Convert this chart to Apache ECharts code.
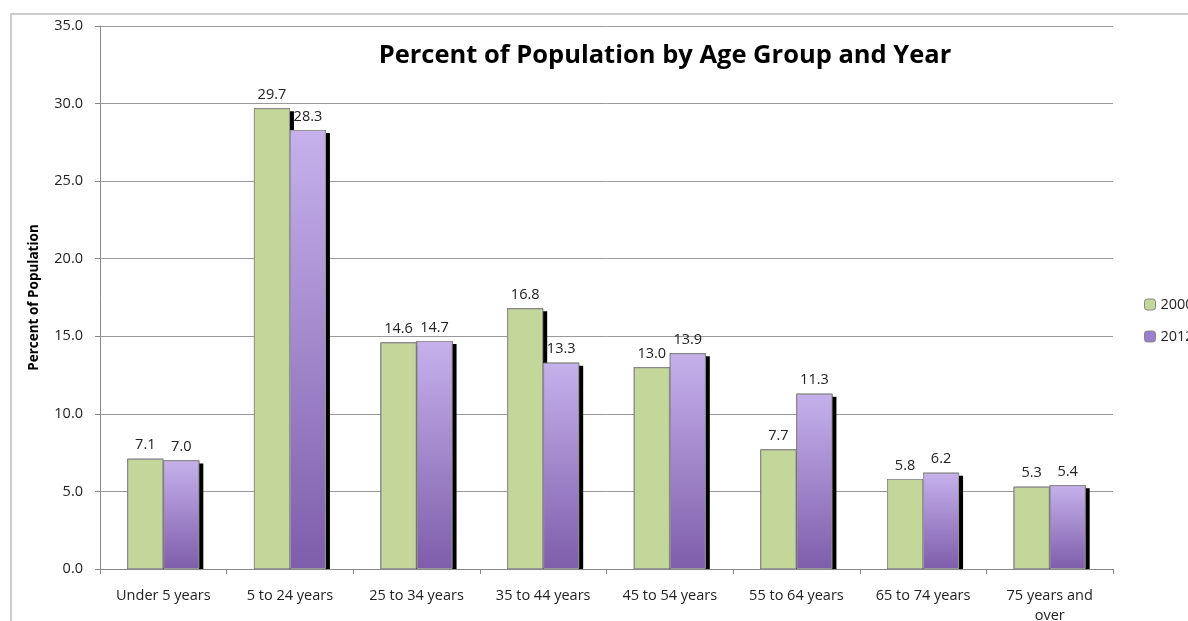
<!DOCTYPE html>
<html><head><meta charset="utf-8">
<script src="https://cdn.jsdelivr.net/npm/echarts@6/dist/echarts.min.js"></script>
<style>html,body{margin:0;padding:0;background:#fff}#c{width:1188px;height:621px}</style>
</head><body><div id="c"></div>
<script>
const categories = ['Under 5 years','5 to 24 years','25 to 34 years','35 to 44 years','45 to 54 years','55 to 64 years','65 to 74 years','75 years and\nover'];
const values2000 = [7.1,29.7,14.6,16.8,13.0,7.7,5.8,5.3];
const values2012 = [7.0,28.3,14.7,13.3,13.9,11.3,6.2,5.4];
const yTicks = {min:0,max:35,interval:5};
const font = '"Open Sans", "Noto Sans", sans-serif';
const chart = echarts.init(document.getElementById('c'));
const shadowStyle = {color:'#000',shadowColor:'#000',shadowBlur:0,shadowOffsetX:4,shadowOffsetY:3};
const labelCfg = {show:true,position:'top',distance:6,fontFamily:font,fontSize:14.5,color:'#222',formatter:p=>p.value.toFixed(1)};
chart.setOption({
  animation:false,
  title:{text:'Percent of Population by Age Group and Year',left:660,top:38,textAlign:'center',
    textStyle:{fontFamily:font,fontSize:25.5,fontWeight:'bold',color:'#000'}},
  graphic:[
    {type:'rect',shape:{x:11,y:14,width:1300,height:700},style:{fill:'none',stroke:'#bbb',lineWidth:1.5},z:-1},
    {type:'rect',shape:{x:101,y:570,width:1012,height:5},style:{fill:'#fff'},z:2}
  ],
  legend:{orient:'vertical',left:1139,top:292,itemWidth:11,itemHeight:11,itemGap:17,
    textStyle:{fontFamily:font,fontSize:14.5,color:'#222'},
    data:[{name:'2000',itemStyle:{color:'#c4d79b',borderColor:'#888',borderWidth:1}},
          {name:'2012',itemStyle:{color:'#9b7fcf',borderColor:'#888',borderWidth:1}}]},
  grid:{left:100,right:75,top:26,bottom:52,outerBoundsMode:'none',containLabel:false},
  xAxis:[{type:'category',data:categories,z:5,
    axisLine:{lineStyle:{color:'#888'}},
    axisTick:{show:true,length:5,lineStyle:{color:'#888'}},
    axisLabel:{fontFamily:font,fontSize:14.5,color:'#222',margin:17,lineHeight:20}},
    {type:'category',data:categories,show:false,position:'bottom'}],
  yAxis:{type:'value',min:yTicks.min,max:yTicks.max,interval:yTicks.interval,
    name:'Percent of Population',nameLocation:'middle',nameGap:59,
    nameTextStyle:{fontFamily:font,fontSize:13.5,fontWeight:'bold',color:'#000'},
    axisLine:{show:true,lineStyle:{color:'#888'}},
    axisTick:{show:true,length:5,lineStyle:{color:'#888'}},
    splitLine:{lineStyle:{color:'#999'}},
    axisLabel:{fontFamily:font,fontSize:14.5,color:'#222',margin:17,formatter:v=>v.toFixed(1)}},
  series:[
    {name:'2000',type:'bar',data:values2000,barWidth:36,barGap:'0%',z:3,
     itemStyle:{color:'#c4d79b',borderColor:'#999',borderWidth:1},
     label:labelCfg},
    {name:'2012',type:'bar',data:values2012,barWidth:36,z:3,
     itemStyle:{color:new echarts.graphic.LinearGradient(0,0,0,1,[{offset:0,color:'#c6b1ec'},{offset:1,color:'#7e5dab'}]),borderColor:'#999',borderWidth:1},
     label:labelCfg},
    {name:'s2000',type:'bar',xAxisIndex:1,data:values2000,barWidth:36,barGap:'0%',z:1,silent:true,itemStyle:shadowStyle},
    {name:'s2012',type:'bar',xAxisIndex:1,data:values2012,barWidth:36,z:1,silent:true,itemStyle:shadowStyle}
  ]
});
</script></body></html>
